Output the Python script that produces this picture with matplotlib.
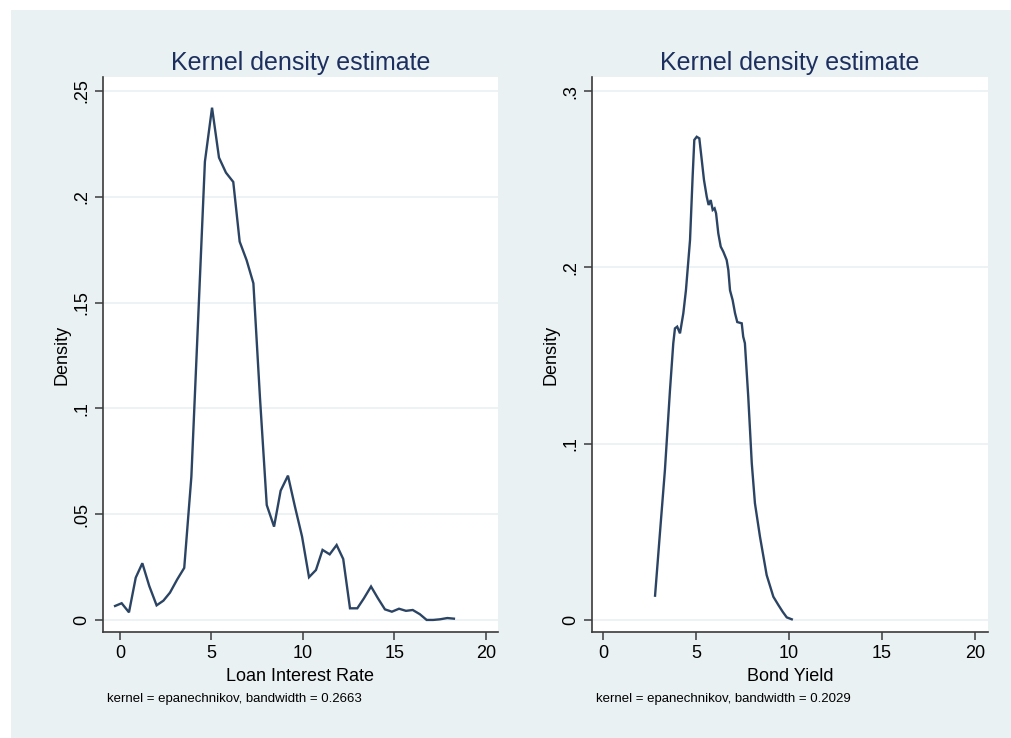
import numpy as np
import matplotlib.pyplot as plt
from matplotlib.patches import Rectangle

# Loan interest rate density
loan_x = [-0.27, 0.09, 0.49, 0.86, 1.22, 1.60, 2.00, 2.37, 2.73, 3.13,
          3.51, 3.90, 4.27, 4.64, 5.03, 5.41, 5.79, 6.19, 6.54, 6.92,
          7.29, 7.65, 8.02, 8.42, 8.78, 9.18, 9.56, 9.95, 10.33, 10.71,
          11.07, 11.46, 11.84, 12.20, 12.57, 12.97, 13.33, 13.72, 14.10, 14.48,
          14.86, 15.25, 15.63, 16.00, 16.39, 16.76, 17.12, 17.49, 17.89, 18.25]
loan_y = [0.0066, 0.0079, 0.0036, 0.0200, 0.0268, 0.0160, 0.0069, 0.0091, 0.0129, 0.0192,
          0.0246, 0.0677, 0.1420, 0.2166, 0.2421, 0.2185, 0.2114, 0.2070, 0.1788, 0.1700,
          0.1591, 0.1050, 0.0543, 0.0441, 0.0611, 0.0682, 0.0536, 0.0394, 0.0202, 0.0236,
          0.0331, 0.0310, 0.0354, 0.0288, 0.0055, 0.0055, 0.0102, 0.0158, 0.0102, 0.0050,
          0.0039, 0.0053, 0.0043, 0.0047, 0.0027, 0.0000, 0.0000, 0.0003, 0.0009, 0.0006]

# Bond yield density
bond_x = [2.80, 3.06, 3.33, 3.60, 3.78, 3.87, 3.99, 4.14, 4.32, 4.46,
          4.68, 4.82, 4.91, 5.04, 5.18, 5.31, 5.43, 5.58, 5.68, 5.79,
          5.90, 6.00, 6.08, 6.20, 6.33, 6.47, 6.65, 6.74, 6.83, 6.97,
          7.10, 7.22, 7.46, 7.54, 7.63, 7.81, 8.00, 8.17, 8.44, 8.80,
          9.16, 9.43, 9.66, 9.88, 10.15]
bond_y = [0.0138, 0.0490, 0.0850, 0.1300, 0.1570, 0.1654, 0.1664, 0.1626, 0.1740, 0.1870,
          0.2155, 0.2515, 0.2723, 0.2741, 0.2732, 0.2610, 0.2496, 0.2400, 0.2354, 0.2382,
          0.2326, 0.2335, 0.2307, 0.2193, 0.2118, 0.2089, 0.2042, 0.1985, 0.1870, 0.1815,
          0.1740, 0.1690, 0.1683, 0.1607, 0.1570, 0.1267, 0.0889, 0.0662, 0.0473, 0.0255,
          0.0132, 0.0085, 0.0047, 0.0015, 0.0004]

x_ticks = [0, 5, 10, 15, 20]
loan_yticks = [0, 0.05, 0.1, 0.15, 0.2, 0.25]
loan_ylabels = ['0', '.05', '.1', '.15', '.2', '.25']
bond_yticks = [0, 0.1, 0.2, 0.3]
bond_ylabels = ['0', '.1', '.2', '.3']

bg = '#eaf1f3'
line_color = '#2c4463'
title_color = '#1c2f5e'
font = ['Liberation Sans', 'DejaVu Sans']

fig = plt.figure(figsize=(10.12, 7.38), dpi=100)
fig.patches.append(Rectangle((11 / 1012, 0), 1 - 11 / 1012, 1 - 10 / 738,
                             transform=fig.transFigure, facecolor=bg,
                             edgecolor='none', zorder=-10))


def draw_panel(rect, xs, ys, xlim, ylim, yticks, ylabels, xlabel, note):
    ax = fig.add_axes(rect)
    ax.set_facecolor('white')
    ax.plot(xs, ys, color=line_color, lw=1.7, solid_joinstyle='miter')
    ax.set_xlim(*xlim)
    ax.set_ylim(*ylim)
    ax.set_xticks(x_ticks)
    ax.set_xticklabels([str(t) for t in x_ticks], family=font, fontsize=13)
    ax.set_yticks(yticks)
    ax.set_yticklabels(ylabels, family=font, fontsize=13, rotation=90, va='center')
    for y in yticks:
        ax.axhline(y, color='#eaf1f3', lw=1.2, zorder=0)
    for side in ['top', 'right']:
        ax.spines[side].set_visible(False)
    for side in ['left', 'bottom']:
        ax.spines[side].set_color('#3a3a3a')
        ax.spines[side].set_linewidth(1.2)
    ax.tick_params(direction='out', length=6, width=1.1, color='#3a3a3a', pad=3)
    ax.set_title('Kernel density estimate', color=title_color, fontsize=18,
                 family=font, pad=5)
    ax.set_xlabel(xlabel, family=font, fontsize=13, labelpad=5)
    ax.set_ylabel('Density', family=font, fontsize=13, labelpad=2)
    ax.text(0.01, -0.11, note, transform=ax.transAxes, family=font,
            fontsize=9.5, ha='left', va='top')
    return ax


draw_panel([103 / 1012, 1 - 632 / 738, 395 / 1012, 555 / 738],
           loan_x, loan_y, (-0.93, 20.66), (-0.0057, 0.2566),
           loan_yticks, loan_ylabels, 'Loan Interest Rate',
           'kernel = epanechnikov, bandwidth = 0.2663')

draw_panel([592 / 1012, 1 - 632 / 738, 396 / 1012, 555 / 738],
           bond_x, bond_y, (-0.59, 20.7), (-0.0068, 0.308),
           bond_yticks, bond_ylabels, 'Bond Yield',
           'kernel = epanechnikov, bandwidth = 0.2029')

fig.savefig('out.png', dpi=100, facecolor='white')
